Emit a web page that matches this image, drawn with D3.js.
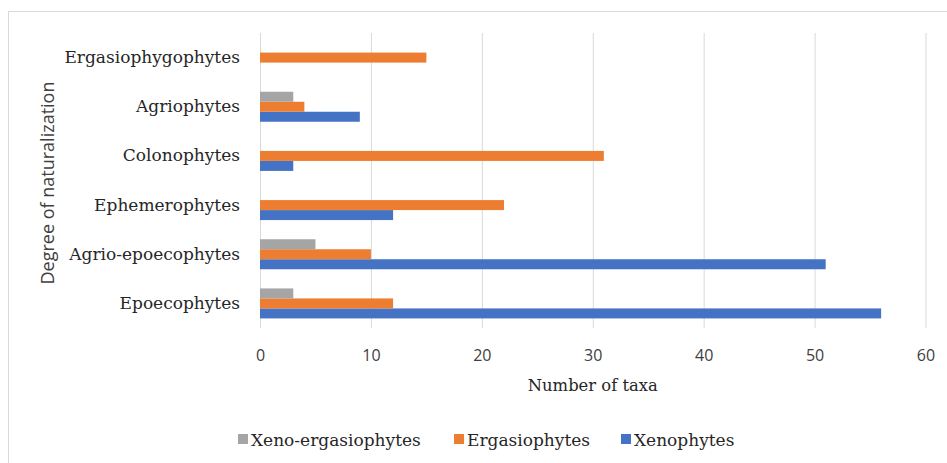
<!DOCTYPE html>
<html>
<head>
<meta charset="utf-8">
<script src="https://cdn.jsdelivr.net/npm/d3@7"></script>
<style>
  body { margin: 0; background: #fff; }
  .serif { font-family: "DejaVu Serif", serif; fill: #262626; }
  .sans { font-family: "Open Sans", "Liberation Sans", sans-serif; fill: #404040; }
</style>
</head>
<body>
<div id="chart"></div>
<script>
var categories = ["Epoecophytes", "Agrio-epoecophytes", "Ephemerophytes", "Colonophytes", "Agriophytes", "Ergasiophygophytes"];
var seriesNames = ["Xenophytes", "Ergasiophytes", "Xeno-ergasiophytes"];
var xenophytes = [56, 51, 12, 3, 9, 0];
var ergasiophytes = [12, 10, 22, 31, 4, 15];
var xenoErgasiophytes = [3, 5, 0, 0, 3, 0];
var xTicks = [0, 10, 20, 30, 40, 50, 60];
var colors = ["#4472C4", "#ED7D31", "#A5A5A5"];

var svgWidth = 947;
var svgHeight = 463;
var plot = {left: 260, right: 925.5, top: 33, bottom: 328};

var svg = d3.select("#chart")
  .append("svg")
  .attr("width", svgWidth)
  .attr("height", svgHeight);

// outer chart frame
svg.append("rect")
  .attr("x", 8.5).attr("y", 11.5)
  .attr("width", 960).attr("height", 470)
  .attr("fill", "none")
  .attr("stroke", "#D9D9D9");

var x = d3.scaleLinear().domain([0, 60]).range([plot.left, plot.right]);

var y = d3.scaleBand()
  .domain(categories.slice().reverse())
  .range([plot.top, plot.bottom])
  .paddingInner(0.39)
  .paddingOuter(0.195);

// within a group: first series at the bottom, like Excel
var ySub = d3.scaleBand()
  .domain(seriesNames.slice().reverse())
  .range([0, y.bandwidth()]);

var rows = categories.map(function(c, i) {
  return {cat: c, values: [xenophytes[i], ergasiophytes[i], xenoErgasiophytes[i]]};
});

// gridlines
svg.append("g")
  .attr("transform", `translate(0, ${plot.bottom})`)
  .call(d3.axisBottom(x).tickValues(xTicks).tickSize(-(plot.bottom - plot.top)).tickFormat(""))
  .call(g => g.select(".domain").remove())
  .call(g => g.selectAll("line").attr("stroke", "#D9D9D9"));

// x tick labels
svg.append("g")
  .attr("transform", `translate(0, ${plot.bottom})`)
  .call(d3.axisBottom(x).tickValues(xTicks).tickSize(0))
  .call(g => g.select(".domain").remove())
  .call(g => g.selectAll("text")
    .attr("class", "sans")
    .attr("y", 27).attr("dy", "0.35em")
    .style("font-size", "16px"));

// bars
var groups = svg.selectAll("g.row")
  .data(rows)
  .enter()
  .append("g")
  .attr("class", "row")
  .attr("transform", d => `translate(0, ${y(d.cat)})`);

groups.selectAll("rect")
  .data(d => d.values.map((v, i) => ({name: seriesNames[i], value: v, color: colors[i]})))
  .enter()
  .append("rect")
  .attr("x", x(0))
  .attr("y", d => ySub(d.name))
  .attr("width", d => x(d.value) - x(0))
  .attr("height", ySub.bandwidth())
  .attr("fill", d => d.color);

// category labels
svg.append("g")
  .attr("transform", `translate(${plot.left}, 0)`)
  .call(d3.axisLeft(y).tickSize(0).tickPadding(20))
  .call(g => g.select(".domain").remove())
  .call(g => g.selectAll("text")
    .attr("class", "serif")
    .style("font-size", "17px"));

// axis titles
svg.append("text")
  .attr("class", "serif")
  .attr("x", (plot.left + plot.right) / 2).attr("y", 385).attr("dy", "0.35em")
  .attr("text-anchor", "middle")
  .attr("textLength", 130)
  .attr("lengthAdjust", "spacingAndGlyphs")
  .style("font-size", "17px")
  .text("Number of taxa");

svg.append("text")
  .attr("class", "sans")
  .attr("transform", "translate(48, 183) rotate(-90)")
  .attr("dy", "0.35em")
  .attr("text-anchor", "middle")
  .style("font-size", "18px")
  .text("Degree of naturalization");

// legend
var legendItems = [
  {name: "Xeno-ergasiophytes", color: colors[2], x: 238},
  {name: "Ergasiophytes", color: colors[1], x: 454},
  {name: "Xenophytes", color: colors[0], x: 621}
];

var legend = svg.selectAll("g.legend")
  .data(legendItems)
  .enter()
  .append("g")
  .attr("class", "legend")
  .attr("transform", d => `translate(${d.x}, 446)`);

legend.append("rect")
  .attr("x", 0).attr("y", -12)
  .attr("width", 10).attr("height", 10)
  .attr("fill", d => d.color);

legend.append("text")
  .attr("class", "serif")
  .attr("x", 13)
  .style("font-size", "17px")
  .text(d => d.name);
</script>
</body>
</html>
